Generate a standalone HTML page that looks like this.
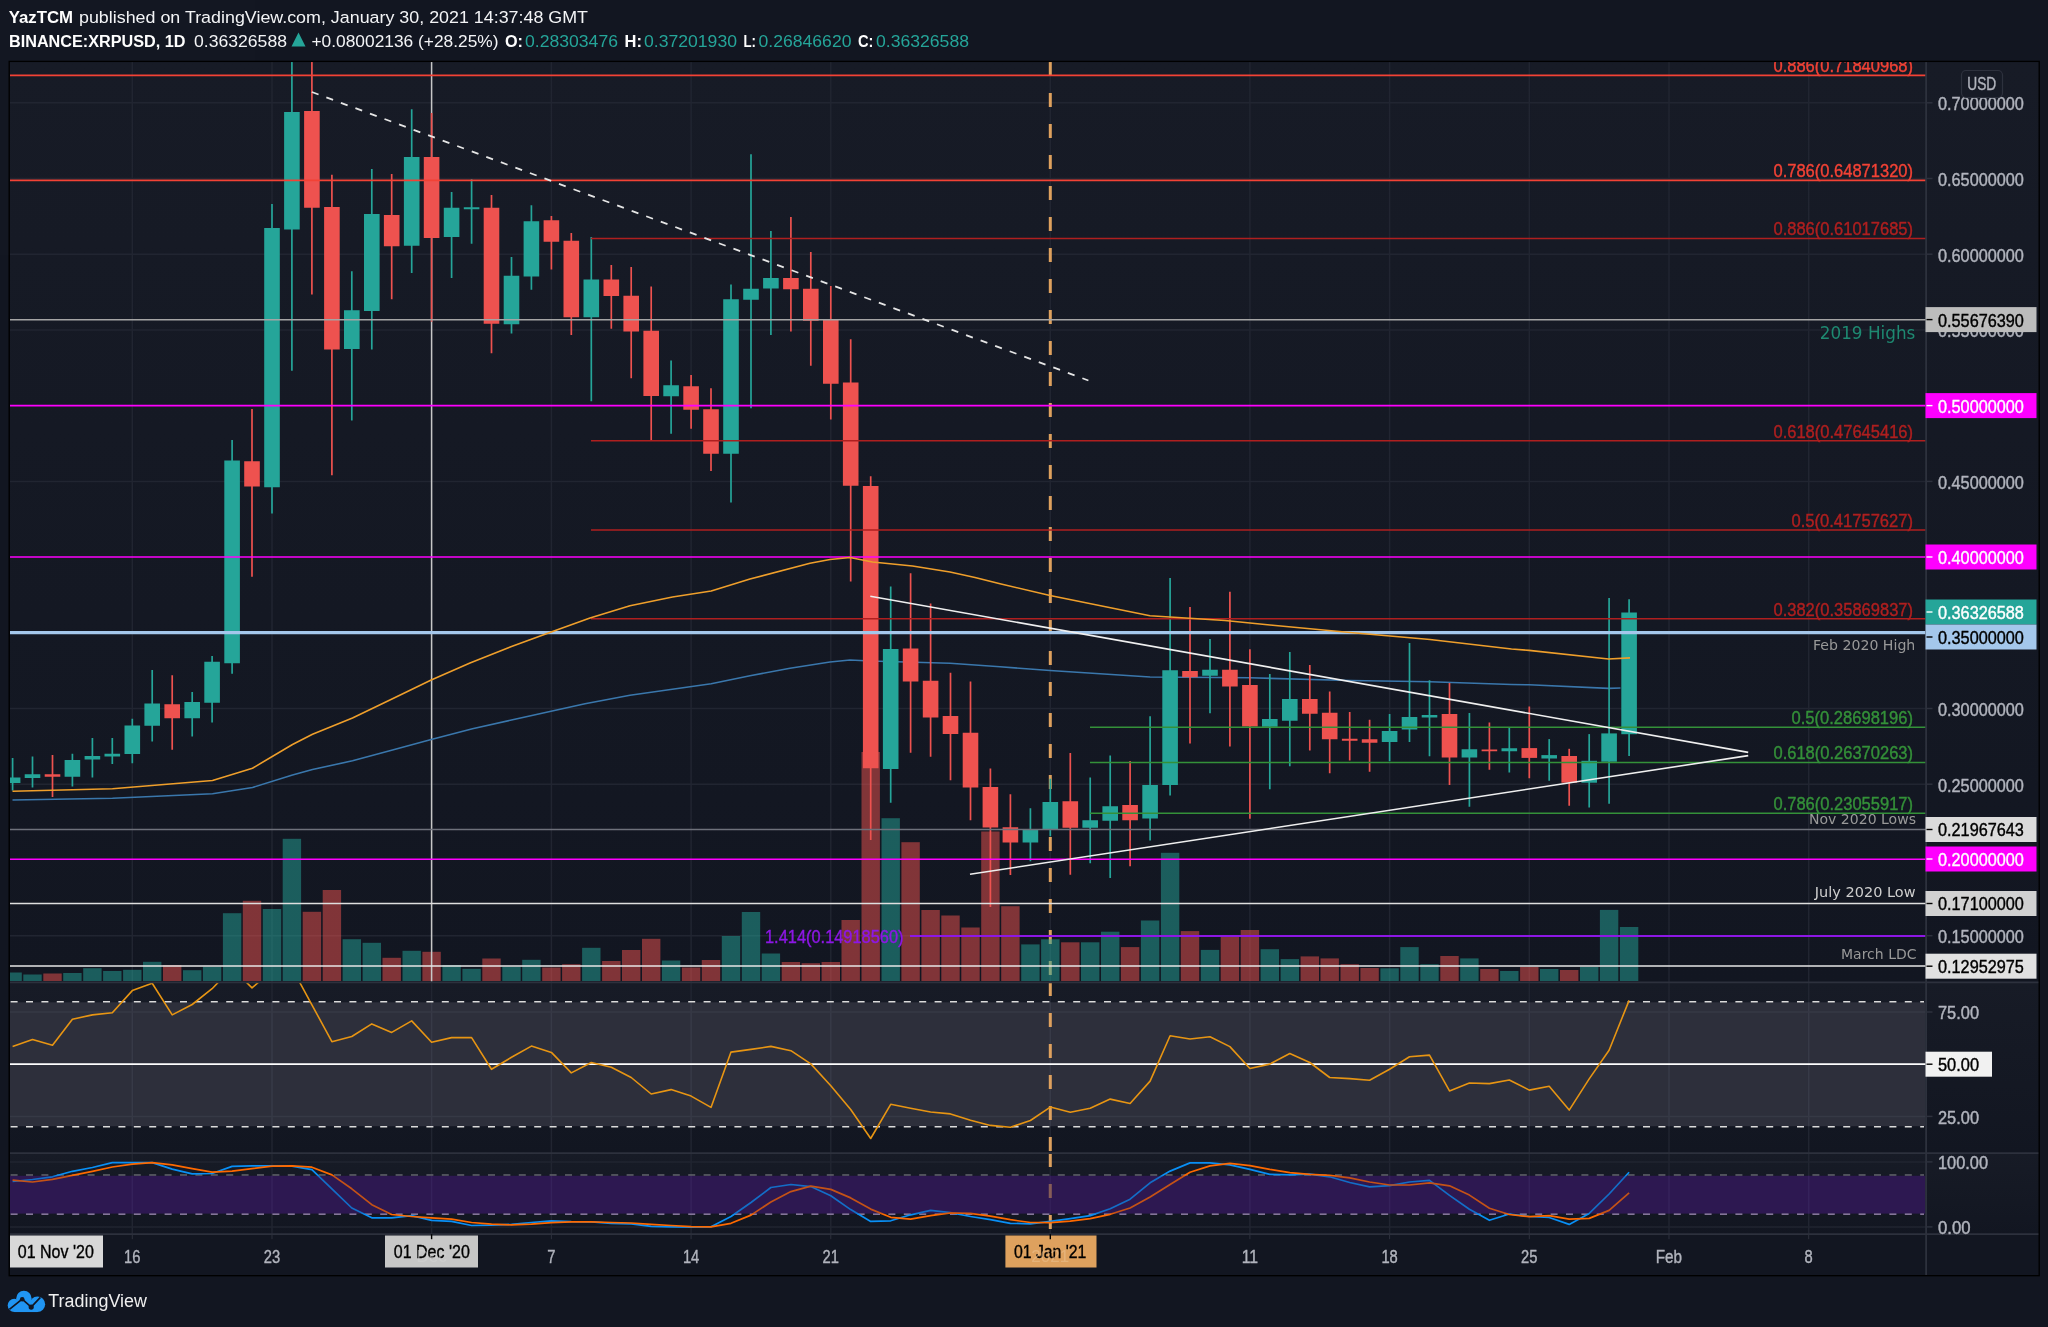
<!DOCTYPE html>
<html lang="en"><head><meta charset="utf-8"><title>XRPUSD chart</title>
<style>html,body{margin:0;padding:0;background:#131722;overflow:hidden}svg{will-change:transform;opacity:0.9999}svg text{white-space:pre}</style>
</head><body>
<svg width="2048" height="1327" viewBox="0 0 2048 1327" style="display:block">
<defs>
<linearGradient id="bg" x1="0" y1="0" x2="0" y2="1"><stop offset="0" stop-color="#181c27"/><stop offset="1" stop-color="#131722"/></linearGradient>
<clipPath id="cpMain"><rect x="10" y="62" width="1916.5" height="920.4"/></clipPath>
<clipPath id="cpRsi"><rect x="10" y="982.4" width="1916.5" height="170.7"/></clipPath>
<clipPath id="cpSto"><rect x="10" y="1153.1" width="1916.5" height="81.1"/></clipPath>
<clipPath id="cpLow"><rect x="10" y="982.4" width="1916.5" height="251.8"/></clipPath>
</defs>
<rect x="0" y="0" width="2048" height="1327" fill="#131722"/>
<rect x="9.5" y="61.5" width="2029.5" height="1214.5" fill="#131722"/>
<rect x="9.5" y="61.5" width="2029.5" height="920.9" fill="url(#bg)"/>
<rect x="9.5" y="982.4" width="2029.5" height="170.7" fill="url(#bg)"/>
<rect x="9.5" y="1153.1" width="2029.5" height="81.1" fill="url(#bg)"/>
<line x1="132.3" y1="62" x2="132.3" y2="1234.2" stroke="#222632" stroke-width="1.5"/>
<line x1="272.0" y1="62" x2="272.0" y2="1234.2" stroke="#222632" stroke-width="1.5"/>
<line x1="431.6" y1="62" x2="431.6" y2="1234.2" stroke="#222632" stroke-width="1.5"/>
<line x1="551.4" y1="62" x2="551.4" y2="1234.2" stroke="#222632" stroke-width="1.5"/>
<line x1="691.1" y1="62" x2="691.1" y2="1234.2" stroke="#222632" stroke-width="1.5"/>
<line x1="830.8" y1="62" x2="830.8" y2="1234.2" stroke="#222632" stroke-width="1.5"/>
<line x1="1050.3" y1="62" x2="1050.3" y2="1234.2" stroke="#222632" stroke-width="1.5"/>
<line x1="1249.9" y1="62" x2="1249.9" y2="1234.2" stroke="#222632" stroke-width="1.5"/>
<line x1="1389.6" y1="62" x2="1389.6" y2="1234.2" stroke="#222632" stroke-width="1.5"/>
<line x1="1529.3" y1="62" x2="1529.3" y2="1234.2" stroke="#222632" stroke-width="1.5"/>
<line x1="1669.0" y1="62" x2="1669.0" y2="1234.2" stroke="#222632" stroke-width="1.5"/>
<line x1="1808.7" y1="62" x2="1808.7" y2="1234.2" stroke="#222632" stroke-width="1.5"/>
<line x1="10" y1="102.8" x2="1926.5" y2="102.8" stroke="#222632" stroke-width="1.5"/>
<line x1="10" y1="178.5" x2="1926.5" y2="178.5" stroke="#222632" stroke-width="1.5"/>
<line x1="10" y1="254.2" x2="1926.5" y2="254.2" stroke="#222632" stroke-width="1.5"/>
<line x1="10" y1="329.9" x2="1926.5" y2="329.9" stroke="#222632" stroke-width="1.5"/>
<line x1="10" y1="481.4" x2="1926.5" y2="481.4" stroke="#222632" stroke-width="1.5"/>
<line x1="10" y1="708.5" x2="1926.5" y2="708.5" stroke="#222632" stroke-width="1.5"/>
<line x1="10" y1="784.2" x2="1926.5" y2="784.2" stroke="#222632" stroke-width="1.5"/>
<line x1="10" y1="935.7" x2="1926.5" y2="935.7" stroke="#222632" stroke-width="1.5"/>
<line x1="10" y1="1012" x2="1926.5" y2="1012" stroke="#222632" stroke-width="1.5"/>
<line x1="10" y1="1116.4" x2="1926.5" y2="1116.4" stroke="#222632" stroke-width="1.5"/>
<line x1="10" y1="1161.9" x2="1926.5" y2="1161.9" stroke="#222632" stroke-width="1.5"/>
<line x1="10" y1="1226.9" x2="1926.5" y2="1226.9" stroke="#222632" stroke-width="1.5"/>
<rect x="10" y="1002.3" width="1915.5" height="123.9" fill="#2e303c"/>
<rect x="10" y="1175.8" width="1915.5" height="37.8" fill="#2f1a52"/>
<line x1="132.3" y1="1002.3" x2="132.3" y2="1126.2" stroke="#383b48" stroke-width="1.5"/>
<line x1="132.3" y1="1175.8" x2="132.3" y2="1213.6" stroke="#3a2760" stroke-width="1.5"/>
<line x1="272.0" y1="1002.3" x2="272.0" y2="1126.2" stroke="#383b48" stroke-width="1.5"/>
<line x1="272.0" y1="1175.8" x2="272.0" y2="1213.6" stroke="#3a2760" stroke-width="1.5"/>
<line x1="431.6" y1="1002.3" x2="431.6" y2="1126.2" stroke="#383b48" stroke-width="1.5"/>
<line x1="431.6" y1="1175.8" x2="431.6" y2="1213.6" stroke="#3a2760" stroke-width="1.5"/>
<line x1="551.4" y1="1002.3" x2="551.4" y2="1126.2" stroke="#383b48" stroke-width="1.5"/>
<line x1="551.4" y1="1175.8" x2="551.4" y2="1213.6" stroke="#3a2760" stroke-width="1.5"/>
<line x1="691.1" y1="1002.3" x2="691.1" y2="1126.2" stroke="#383b48" stroke-width="1.5"/>
<line x1="691.1" y1="1175.8" x2="691.1" y2="1213.6" stroke="#3a2760" stroke-width="1.5"/>
<line x1="830.8" y1="1002.3" x2="830.8" y2="1126.2" stroke="#383b48" stroke-width="1.5"/>
<line x1="830.8" y1="1175.8" x2="830.8" y2="1213.6" stroke="#3a2760" stroke-width="1.5"/>
<line x1="1050.3" y1="1002.3" x2="1050.3" y2="1126.2" stroke="#383b48" stroke-width="1.5"/>
<line x1="1050.3" y1="1175.8" x2="1050.3" y2="1213.6" stroke="#3a2760" stroke-width="1.5"/>
<line x1="1249.9" y1="1002.3" x2="1249.9" y2="1126.2" stroke="#383b48" stroke-width="1.5"/>
<line x1="1249.9" y1="1175.8" x2="1249.9" y2="1213.6" stroke="#3a2760" stroke-width="1.5"/>
<line x1="1389.6" y1="1002.3" x2="1389.6" y2="1126.2" stroke="#383b48" stroke-width="1.5"/>
<line x1="1389.6" y1="1175.8" x2="1389.6" y2="1213.6" stroke="#3a2760" stroke-width="1.5"/>
<line x1="1529.3" y1="1002.3" x2="1529.3" y2="1126.2" stroke="#383b48" stroke-width="1.5"/>
<line x1="1529.3" y1="1175.8" x2="1529.3" y2="1213.6" stroke="#3a2760" stroke-width="1.5"/>
<line x1="1669.0" y1="1002.3" x2="1669.0" y2="1126.2" stroke="#383b48" stroke-width="1.5"/>
<line x1="1669.0" y1="1175.8" x2="1669.0" y2="1213.6" stroke="#3a2760" stroke-width="1.5"/>
<line x1="1808.7" y1="1002.3" x2="1808.7" y2="1126.2" stroke="#383b48" stroke-width="1.5"/>
<line x1="1808.7" y1="1175.8" x2="1808.7" y2="1213.6" stroke="#3a2760" stroke-width="1.5"/>
<line x1="10" y1="1012" x2="1925.5" y2="1012" stroke="#373a46" stroke-width="1.5"/>
<line x1="10" y1="1116.4" x2="1925.5" y2="1116.4" stroke="#373a46" stroke-width="1.5"/>
<g clip-path="url(#cpMain)">
<path d="M1050.3 62V981" stroke="#dfa25f" stroke-width="3" stroke-dasharray="14 17" fill="none"/>
<rect x="3.4" y="972.5" width="18.4" height="8.5" fill="#26a69a" fill-opacity="0.5"/>
<rect x="23.3" y="974.5" width="18.4" height="6.5" fill="#26a69a" fill-opacity="0.5"/>
<rect x="43.3" y="973.5" width="18.4" height="7.5" fill="#ef5350" fill-opacity="0.5"/>
<rect x="63.2" y="973.0" width="18.4" height="8.0" fill="#26a69a" fill-opacity="0.5"/>
<rect x="83.2" y="968.2" width="18.4" height="12.8" fill="#26a69a" fill-opacity="0.5"/>
<rect x="103.1" y="971.0" width="18.4" height="10.0" fill="#26a69a" fill-opacity="0.5"/>
<rect x="123.1" y="969.8" width="18.4" height="11.2" fill="#26a69a" fill-opacity="0.5"/>
<rect x="143.0" y="961.8" width="18.4" height="19.2" fill="#26a69a" fill-opacity="0.5"/>
<rect x="163.0" y="965.0" width="18.4" height="16.0" fill="#ef5350" fill-opacity="0.5"/>
<rect x="183.0" y="970.2" width="18.4" height="10.8" fill="#26a69a" fill-opacity="0.5"/>
<rect x="202.9" y="966.8" width="18.4" height="14.2" fill="#26a69a" fill-opacity="0.5"/>
<rect x="222.9" y="913.2" width="18.4" height="67.8" fill="#26a69a" fill-opacity="0.5"/>
<rect x="242.8" y="900.8" width="18.4" height="80.2" fill="#ef5350" fill-opacity="0.5"/>
<rect x="262.8" y="909.0" width="18.4" height="72.0" fill="#26a69a" fill-opacity="0.5"/>
<rect x="282.7" y="838.8" width="18.4" height="142.2" fill="#26a69a" fill-opacity="0.5"/>
<rect x="302.7" y="911.8" width="18.4" height="69.2" fill="#ef5350" fill-opacity="0.5"/>
<rect x="322.7" y="890.0" width="18.4" height="91.0" fill="#ef5350" fill-opacity="0.5"/>
<rect x="342.6" y="939.2" width="18.4" height="41.8" fill="#26a69a" fill-opacity="0.5"/>
<rect x="362.6" y="942.8" width="18.4" height="38.2" fill="#26a69a" fill-opacity="0.5"/>
<rect x="382.5" y="957.8" width="18.4" height="23.2" fill="#ef5350" fill-opacity="0.5"/>
<rect x="402.5" y="950.8" width="18.4" height="30.2" fill="#26a69a" fill-opacity="0.5"/>
<rect x="422.4" y="951.8" width="18.4" height="29.2" fill="#ef5350" fill-opacity="0.5"/>
<rect x="442.4" y="965.0" width="18.4" height="16.0" fill="#26a69a" fill-opacity="0.5"/>
<rect x="462.4" y="968.8" width="18.4" height="12.2" fill="#26a69a" fill-opacity="0.5"/>
<rect x="482.3" y="958.5" width="18.4" height="22.5" fill="#ef5350" fill-opacity="0.5"/>
<rect x="502.3" y="966.8" width="18.4" height="14.2" fill="#26a69a" fill-opacity="0.5"/>
<rect x="522.2" y="959.8" width="18.4" height="21.2" fill="#26a69a" fill-opacity="0.5"/>
<rect x="542.2" y="967.5" width="18.4" height="13.5" fill="#ef5350" fill-opacity="0.5"/>
<rect x="562.1" y="964.2" width="18.4" height="16.8" fill="#ef5350" fill-opacity="0.5"/>
<rect x="582.1" y="947.8" width="18.4" height="33.2" fill="#26a69a" fill-opacity="0.5"/>
<rect x="602.1" y="961.0" width="18.4" height="20.0" fill="#ef5350" fill-opacity="0.5"/>
<rect x="622.0" y="950.0" width="18.4" height="31.0" fill="#ef5350" fill-opacity="0.5"/>
<rect x="642.0" y="938.8" width="18.4" height="42.2" fill="#ef5350" fill-opacity="0.5"/>
<rect x="661.9" y="960.5" width="18.4" height="20.5" fill="#26a69a" fill-opacity="0.5"/>
<rect x="681.9" y="967.5" width="18.4" height="13.5" fill="#ef5350" fill-opacity="0.5"/>
<rect x="701.8" y="960.0" width="18.4" height="21.0" fill="#ef5350" fill-opacity="0.5"/>
<rect x="721.8" y="936.0" width="18.4" height="45.0" fill="#26a69a" fill-opacity="0.5"/>
<rect x="741.8" y="912.0" width="18.4" height="69.0" fill="#26a69a" fill-opacity="0.5"/>
<rect x="761.7" y="953.5" width="18.4" height="27.5" fill="#26a69a" fill-opacity="0.5"/>
<rect x="781.7" y="962.0" width="18.4" height="19.0" fill="#ef5350" fill-opacity="0.5"/>
<rect x="801.6" y="963.2" width="18.4" height="17.8" fill="#ef5350" fill-opacity="0.5"/>
<rect x="821.6" y="962.0" width="18.4" height="19.0" fill="#ef5350" fill-opacity="0.5"/>
<rect x="841.5" y="920.0" width="18.4" height="61.0" fill="#ef5350" fill-opacity="0.5"/>
<rect x="861.5" y="752.0" width="18.4" height="229.0" fill="#ef5350" fill-opacity="0.5"/>
<rect x="881.5" y="818.2" width="18.4" height="162.8" fill="#26a69a" fill-opacity="0.5"/>
<rect x="901.4" y="842.2" width="18.4" height="138.8" fill="#ef5350" fill-opacity="0.5"/>
<rect x="921.4" y="910.0" width="18.4" height="71.0" fill="#ef5350" fill-opacity="0.5"/>
<rect x="941.3" y="915.5" width="18.4" height="65.5" fill="#ef5350" fill-opacity="0.5"/>
<rect x="961.3" y="927.5" width="18.4" height="53.5" fill="#ef5350" fill-opacity="0.5"/>
<rect x="981.2" y="831.5" width="18.4" height="149.5" fill="#ef5350" fill-opacity="0.5"/>
<rect x="1001.2" y="906.2" width="18.4" height="74.8" fill="#ef5350" fill-opacity="0.5"/>
<rect x="1021.2" y="944.4" width="18.4" height="36.6" fill="#26a69a" fill-opacity="0.5"/>
<rect x="1041.1" y="939.3" width="18.4" height="41.7" fill="#26a69a" fill-opacity="0.5"/>
<rect x="1061.1" y="942.3" width="18.4" height="38.7" fill="#ef5350" fill-opacity="0.5"/>
<rect x="1081.0" y="942.3" width="18.4" height="38.7" fill="#26a69a" fill-opacity="0.5"/>
<rect x="1101.0" y="931.7" width="18.4" height="49.3" fill="#26a69a" fill-opacity="0.5"/>
<rect x="1120.9" y="947.1" width="18.4" height="33.9" fill="#ef5350" fill-opacity="0.5"/>
<rect x="1140.9" y="920.5" width="18.4" height="60.5" fill="#26a69a" fill-opacity="0.5"/>
<rect x="1160.9" y="852.8" width="18.4" height="128.2" fill="#26a69a" fill-opacity="0.5"/>
<rect x="1180.8" y="931.1" width="18.4" height="49.9" fill="#ef5350" fill-opacity="0.5"/>
<rect x="1200.8" y="949.9" width="18.4" height="31.1" fill="#26a69a" fill-opacity="0.5"/>
<rect x="1220.7" y="936.2" width="18.4" height="44.8" fill="#ef5350" fill-opacity="0.5"/>
<rect x="1240.7" y="930.0" width="18.4" height="51.0" fill="#ef5350" fill-opacity="0.5"/>
<rect x="1260.6" y="949.2" width="18.4" height="31.8" fill="#26a69a" fill-opacity="0.5"/>
<rect x="1280.6" y="959.1" width="18.4" height="21.9" fill="#26a69a" fill-opacity="0.5"/>
<rect x="1300.6" y="956.4" width="18.4" height="24.6" fill="#ef5350" fill-opacity="0.5"/>
<rect x="1320.5" y="958.4" width="18.4" height="22.6" fill="#ef5350" fill-opacity="0.5"/>
<rect x="1340.5" y="964.2" width="18.4" height="16.8" fill="#ef5350" fill-opacity="0.5"/>
<rect x="1360.4" y="968.0" width="18.4" height="13.0" fill="#ef5350" fill-opacity="0.5"/>
<rect x="1380.4" y="968.3" width="18.4" height="12.7" fill="#26a69a" fill-opacity="0.5"/>
<rect x="1400.3" y="947.1" width="18.4" height="33.9" fill="#26a69a" fill-opacity="0.5"/>
<rect x="1420.3" y="964.2" width="18.4" height="16.8" fill="#26a69a" fill-opacity="0.5"/>
<rect x="1440.3" y="956.0" width="18.4" height="25.0" fill="#ef5350" fill-opacity="0.5"/>
<rect x="1460.2" y="958.4" width="18.4" height="22.6" fill="#26a69a" fill-opacity="0.5"/>
<rect x="1480.2" y="969.0" width="18.4" height="12.0" fill="#ef5350" fill-opacity="0.5"/>
<rect x="1500.1" y="971.0" width="18.4" height="10.0" fill="#26a69a" fill-opacity="0.5"/>
<rect x="1520.1" y="967.0" width="18.4" height="14.0" fill="#ef5350" fill-opacity="0.5"/>
<rect x="1540.0" y="969.0" width="18.4" height="12.0" fill="#26a69a" fill-opacity="0.5"/>
<rect x="1560.0" y="970.0" width="18.4" height="11.0" fill="#ef5350" fill-opacity="0.5"/>
<rect x="1580.0" y="967.0" width="18.4" height="14.0" fill="#26a69a" fill-opacity="0.5"/>
<rect x="1599.9" y="909.9" width="18.4" height="71.1" fill="#26a69a" fill-opacity="0.5"/>
<rect x="1619.9" y="927.0" width="18.4" height="54.0" fill="#26a69a" fill-opacity="0.5"/>
<line x1="431.6" y1="62" x2="431.6" y2="981.5" stroke="#c8c8c8" stroke-width="1.5"/>
<polyline points="12.5,800.0 112.5,798.2 212.5,793.8 252.5,787.5 292.5,775.0 312.5,769.5 352.5,760.8 392.5,750.0 431.2,739.5 472.5,728.8 511.5,720.0 585.0,703.8 630.0,695.2 711.2,683.8 750.0,675.8 790.0,668.2 830.0,662.0 850.0,660.0 870.0,661.0 950.0,663.2 1000.0,666.8 1050.0,670.5 1150.0,677.0 1250.0,677.8 1350.0,680.5 1430.0,681.8 1511.5,684.5 1529.0,684.8 1608.5,688.4 1620.5,688.0" fill="none" stroke="#3b78ad" stroke-width="1.6" stroke-linejoin="round"/>
<line x1="12.6" y1="758" x2="12.6" y2="790.5" stroke="#26a69a" stroke-width="1.7"/>
<rect x="4.8" y="777.5" width="15.6" height="5.50" fill="#26a69a"/>
<line x1="32.5" y1="756.5" x2="32.5" y2="787.5" stroke="#26a69a" stroke-width="1.7"/>
<rect x="24.7" y="774.25" width="15.6" height="3.75" fill="#26a69a"/>
<line x1="52.5" y1="755" x2="52.5" y2="797" stroke="#ef5350" stroke-width="1.7"/>
<rect x="44.7" y="774.25" width="15.6" height="2.50" fill="#ef5350"/>
<line x1="72.4" y1="753.75" x2="72.4" y2="786.5" stroke="#26a69a" stroke-width="1.7"/>
<rect x="64.6" y="760" width="15.6" height="16.75" fill="#26a69a"/>
<line x1="92.4" y1="738" x2="92.4" y2="777.5" stroke="#26a69a" stroke-width="1.7"/>
<rect x="84.6" y="756" width="15.6" height="3.50" fill="#26a69a"/>
<line x1="112.3" y1="738" x2="112.3" y2="764" stroke="#26a69a" stroke-width="1.7"/>
<rect x="104.5" y="753.75" width="15.6" height="2.75" fill="#26a69a"/>
<line x1="132.3" y1="718.75" x2="132.3" y2="763.25" stroke="#26a69a" stroke-width="1.7"/>
<rect x="124.5" y="725.5" width="15.6" height="28.50" fill="#26a69a"/>
<line x1="152.2" y1="670" x2="152.2" y2="741.5" stroke="#26a69a" stroke-width="1.7"/>
<rect x="144.4" y="703.5" width="15.6" height="22.25" fill="#26a69a"/>
<line x1="172.2" y1="675.25" x2="172.2" y2="749.75" stroke="#ef5350" stroke-width="1.7"/>
<rect x="164.4" y="704.25" width="15.6" height="14.00" fill="#ef5350"/>
<line x1="192.2" y1="692" x2="192.2" y2="736.5" stroke="#26a69a" stroke-width="1.7"/>
<rect x="184.4" y="702" width="15.6" height="16.25" fill="#26a69a"/>
<line x1="212.1" y1="656" x2="212.1" y2="722.5" stroke="#26a69a" stroke-width="1.7"/>
<rect x="204.3" y="661.75" width="15.6" height="41.00" fill="#26a69a"/>
<line x1="232.1" y1="440" x2="232.1" y2="673.75" stroke="#26a69a" stroke-width="1.7"/>
<rect x="224.3" y="460.5" width="15.6" height="202.75" fill="#26a69a"/>
<line x1="252.0" y1="409" x2="252.0" y2="576.75" stroke="#ef5350" stroke-width="1.7"/>
<rect x="244.2" y="461.25" width="15.6" height="25.25" fill="#ef5350"/>
<line x1="272.0" y1="204" x2="272.0" y2="513.5" stroke="#26a69a" stroke-width="1.7"/>
<rect x="264.2" y="228" width="15.6" height="259.25" fill="#26a69a"/>
<line x1="291.9" y1="50" x2="291.9" y2="370.75" stroke="#26a69a" stroke-width="1.7"/>
<rect x="284.1" y="112" width="15.6" height="117.50" fill="#26a69a"/>
<line x1="311.9" y1="50" x2="311.9" y2="294.5" stroke="#ef5350" stroke-width="1.7"/>
<rect x="304.1" y="111" width="15.6" height="96.75" fill="#ef5350"/>
<line x1="331.9" y1="174.75" x2="331.9" y2="475.25" stroke="#ef5350" stroke-width="1.7"/>
<rect x="324.1" y="207" width="15.6" height="142.50" fill="#ef5350"/>
<line x1="351.8" y1="271.25" x2="351.8" y2="420.5" stroke="#26a69a" stroke-width="1.7"/>
<rect x="344.0" y="310.25" width="15.6" height="38.75" fill="#26a69a"/>
<line x1="371.8" y1="169" x2="371.8" y2="349.5" stroke="#26a69a" stroke-width="1.7"/>
<rect x="364.0" y="214" width="15.6" height="97.00" fill="#26a69a"/>
<line x1="391.7" y1="174" x2="391.7" y2="299.25" stroke="#ef5350" stroke-width="1.7"/>
<rect x="383.9" y="215" width="15.6" height="31.25" fill="#ef5350"/>
<line x1="411.7" y1="109.25" x2="411.7" y2="273" stroke="#26a69a" stroke-width="1.7"/>
<rect x="403.9" y="157" width="15.6" height="88.75" fill="#26a69a"/>
<line x1="431.6" y1="113" x2="431.6" y2="321.75" stroke="#ef5350" stroke-width="1.7"/>
<rect x="423.8" y="157" width="15.6" height="81.00" fill="#ef5350"/>
<line x1="451.6" y1="192" x2="451.6" y2="278" stroke="#26a69a" stroke-width="1.7"/>
<rect x="443.8" y="207.75" width="15.6" height="29.25" fill="#26a69a"/>
<line x1="471.6" y1="179.25" x2="471.6" y2="243.75" stroke="#26a69a" stroke-width="1.7"/>
<rect x="463.8" y="207.25" width="15.6" height="2.00" fill="#26a69a"/>
<line x1="491.5" y1="195" x2="491.5" y2="353.25" stroke="#ef5350" stroke-width="1.7"/>
<rect x="483.7" y="207.75" width="15.6" height="116.00" fill="#ef5350"/>
<line x1="511.5" y1="257" x2="511.5" y2="333.5" stroke="#26a69a" stroke-width="1.7"/>
<rect x="503.7" y="275.75" width="15.6" height="48.50" fill="#26a69a"/>
<line x1="531.4" y1="205.25" x2="531.4" y2="289.75" stroke="#26a69a" stroke-width="1.7"/>
<rect x="523.6" y="221.25" width="15.6" height="55.25" fill="#26a69a"/>
<line x1="551.4" y1="216" x2="551.4" y2="269.5" stroke="#ef5350" stroke-width="1.7"/>
<rect x="543.6" y="220.25" width="15.6" height="21.50" fill="#ef5350"/>
<line x1="571.3" y1="233" x2="571.3" y2="335" stroke="#ef5350" stroke-width="1.7"/>
<rect x="563.5" y="240.75" width="15.6" height="76.50" fill="#ef5350"/>
<line x1="591.3" y1="237" x2="591.3" y2="401.25" stroke="#26a69a" stroke-width="1.7"/>
<rect x="583.5" y="279.5" width="15.6" height="37.75" fill="#26a69a"/>
<line x1="611.3" y1="265" x2="611.3" y2="328.75" stroke="#ef5350" stroke-width="1.7"/>
<rect x="603.5" y="279.5" width="15.6" height="16.50" fill="#ef5350"/>
<line x1="631.2" y1="267" x2="631.2" y2="378.25" stroke="#ef5350" stroke-width="1.7"/>
<rect x="623.4" y="295.75" width="15.6" height="35.75" fill="#ef5350"/>
<line x1="651.2" y1="286.5" x2="651.2" y2="440" stroke="#ef5350" stroke-width="1.7"/>
<rect x="643.4" y="330.75" width="15.6" height="65.25" fill="#ef5350"/>
<line x1="671.1" y1="360.5" x2="671.1" y2="433.75" stroke="#26a69a" stroke-width="1.7"/>
<rect x="663.3" y="385.25" width="15.6" height="11.00" fill="#26a69a"/>
<line x1="691.1" y1="375" x2="691.1" y2="428.75" stroke="#ef5350" stroke-width="1.7"/>
<rect x="683.3" y="386.25" width="15.6" height="23.50" fill="#ef5350"/>
<line x1="711.0" y1="388.25" x2="711.0" y2="471" stroke="#ef5350" stroke-width="1.7"/>
<rect x="703.2" y="409.25" width="15.6" height="44.50" fill="#ef5350"/>
<line x1="731.0" y1="284.5" x2="731.0" y2="502.5" stroke="#26a69a" stroke-width="1.7"/>
<rect x="723.2" y="299.25" width="15.6" height="154.50" fill="#26a69a"/>
<line x1="751.0" y1="154.25" x2="751.0" y2="408.25" stroke="#26a69a" stroke-width="1.7"/>
<rect x="743.2" y="288.75" width="15.6" height="11.00" fill="#26a69a"/>
<line x1="770.9" y1="231" x2="770.9" y2="335" stroke="#26a69a" stroke-width="1.7"/>
<rect x="763.1" y="278" width="15.6" height="10.50" fill="#26a69a"/>
<line x1="790.9" y1="217" x2="790.9" y2="331.5" stroke="#ef5350" stroke-width="1.7"/>
<rect x="783.1" y="278" width="15.6" height="11.25" fill="#ef5350"/>
<line x1="810.8" y1="252" x2="810.8" y2="365.75" stroke="#ef5350" stroke-width="1.7"/>
<rect x="803.0" y="288.75" width="15.6" height="32.00" fill="#ef5350"/>
<line x1="830.8" y1="286" x2="830.8" y2="419.5" stroke="#ef5350" stroke-width="1.7"/>
<rect x="823.0" y="320" width="15.6" height="63.75" fill="#ef5350"/>
<line x1="850.7" y1="339.25" x2="850.7" y2="581.5" stroke="#ef5350" stroke-width="1.7"/>
<rect x="842.9" y="382.5" width="15.6" height="103.25" fill="#ef5350"/>
<line x1="870.7" y1="476.25" x2="870.7" y2="840" stroke="#ef5350" stroke-width="1.7"/>
<rect x="862.9" y="486" width="15.6" height="282.25" fill="#ef5350"/>
<line x1="890.7" y1="586.5" x2="890.7" y2="802.75" stroke="#26a69a" stroke-width="1.7"/>
<rect x="882.9" y="649" width="15.6" height="120.00" fill="#26a69a"/>
<line x1="910.6" y1="573.25" x2="910.6" y2="752.75" stroke="#ef5350" stroke-width="1.7"/>
<rect x="902.8" y="648.5" width="15.6" height="33.00" fill="#ef5350"/>
<line x1="930.6" y1="603.5" x2="930.6" y2="756.75" stroke="#ef5350" stroke-width="1.7"/>
<rect x="922.8" y="680.75" width="15.6" height="36.75" fill="#ef5350"/>
<line x1="950.5" y1="672.75" x2="950.5" y2="780.25" stroke="#ef5350" stroke-width="1.7"/>
<rect x="942.7" y="716" width="15.6" height="18.00" fill="#ef5350"/>
<line x1="970.5" y1="681.5" x2="970.5" y2="820.25" stroke="#ef5350" stroke-width="1.7"/>
<rect x="962.7" y="732.75" width="15.6" height="54.75" fill="#ef5350"/>
<line x1="990.4" y1="768.5" x2="990.4" y2="907" stroke="#ef5350" stroke-width="1.7"/>
<rect x="982.6" y="787" width="15.6" height="40.50" fill="#ef5350"/>
<line x1="1010.4" y1="794.25" x2="1010.4" y2="875" stroke="#ef5350" stroke-width="1.7"/>
<rect x="1002.6" y="827.25" width="15.6" height="15.25" fill="#ef5350"/>
<line x1="1030.4" y1="808.25" x2="1030.4" y2="861.25" stroke="#26a69a" stroke-width="1.7"/>
<rect x="1022.6" y="829" width="15.6" height="13.50" fill="#26a69a"/>
<line x1="1050.3" y1="778.75" x2="1050.3" y2="836.25" stroke="#26a69a" stroke-width="1.7"/>
<rect x="1042.5" y="802" width="15.6" height="27.50" fill="#26a69a"/>
<line x1="1070.3" y1="753" x2="1070.3" y2="874.7" stroke="#ef5350" stroke-width="1.7"/>
<rect x="1062.5" y="801.25" width="15.6" height="26.50" fill="#ef5350"/>
<line x1="1090.2" y1="777.5" x2="1090.2" y2="863.25" stroke="#26a69a" stroke-width="1.7"/>
<rect x="1082.4" y="820.25" width="15.6" height="7.50" fill="#26a69a"/>
<line x1="1110.2" y1="755.5" x2="1110.2" y2="878" stroke="#26a69a" stroke-width="1.7"/>
<rect x="1102.4" y="806.25" width="15.6" height="14.50" fill="#26a69a"/>
<line x1="1130.1" y1="761" x2="1130.1" y2="866.25" stroke="#ef5350" stroke-width="1.7"/>
<rect x="1122.3" y="805" width="15.6" height="15.25" fill="#ef5350"/>
<line x1="1150.1" y1="716.25" x2="1150.1" y2="840.5" stroke="#26a69a" stroke-width="1.7"/>
<rect x="1142.3" y="785" width="15.6" height="33.50" fill="#26a69a"/>
<line x1="1170.1" y1="578" x2="1170.1" y2="795.5" stroke="#26a69a" stroke-width="1.7"/>
<rect x="1162.3" y="670.25" width="15.6" height="114.75" fill="#26a69a"/>
<line x1="1190.0" y1="607" x2="1190.0" y2="743.5" stroke="#ef5350" stroke-width="1.7"/>
<rect x="1182.2" y="671" width="15.6" height="6.25" fill="#ef5350"/>
<line x1="1210.0" y1="639" x2="1210.0" y2="713.25" stroke="#26a69a" stroke-width="1.7"/>
<rect x="1202.2" y="669.75" width="15.6" height="6.00" fill="#26a69a"/>
<line x1="1229.9" y1="591.75" x2="1229.9" y2="746.5" stroke="#ef5350" stroke-width="1.7"/>
<rect x="1222.1" y="669.75" width="15.6" height="16.75" fill="#ef5350"/>
<line x1="1249.9" y1="649.25" x2="1249.9" y2="818.75" stroke="#ef5350" stroke-width="1.7"/>
<rect x="1242.1" y="685" width="15.6" height="41.50" fill="#ef5350"/>
<line x1="1269.8" y1="674" x2="1269.8" y2="789.25" stroke="#26a69a" stroke-width="1.7"/>
<rect x="1262.0" y="719" width="15.6" height="7.75" fill="#26a69a"/>
<line x1="1289.8" y1="652" x2="1289.8" y2="766.25" stroke="#26a69a" stroke-width="1.7"/>
<rect x="1282.0" y="699" width="15.6" height="21.75" fill="#26a69a"/>
<line x1="1309.8" y1="665" x2="1309.8" y2="750.5" stroke="#ef5350" stroke-width="1.7"/>
<rect x="1302.0" y="699" width="15.6" height="14.75" fill="#ef5350"/>
<line x1="1329.7" y1="691.5" x2="1329.7" y2="773.25" stroke="#ef5350" stroke-width="1.7"/>
<rect x="1321.9" y="712.75" width="15.6" height="26.50" fill="#ef5350"/>
<line x1="1349.7" y1="712" x2="1349.7" y2="760.5" stroke="#ef5350" stroke-width="1.7"/>
<rect x="1341.9" y="738.75" width="15.6" height="2.00" fill="#ef5350"/>
<line x1="1369.6" y1="719.75" x2="1369.6" y2="771.75" stroke="#ef5350" stroke-width="1.7"/>
<rect x="1361.8" y="739.25" width="15.6" height="3.50" fill="#ef5350"/>
<line x1="1389.6" y1="714" x2="1389.6" y2="761.25" stroke="#26a69a" stroke-width="1.7"/>
<rect x="1381.8" y="731" width="15.6" height="11.00" fill="#26a69a"/>
<line x1="1409.5" y1="643" x2="1409.5" y2="742" stroke="#26a69a" stroke-width="1.7"/>
<rect x="1401.7" y="717" width="15.6" height="12.50" fill="#26a69a"/>
<line x1="1429.5" y1="680.25" x2="1429.5" y2="756.25" stroke="#26a69a" stroke-width="1.7"/>
<rect x="1421.7" y="715" width="15.6" height="2.50" fill="#26a69a"/>
<line x1="1449.5" y1="683" x2="1449.5" y2="785" stroke="#ef5350" stroke-width="1.7"/>
<rect x="1441.7" y="714" width="15.6" height="43.50" fill="#ef5350"/>
<line x1="1469.4" y1="713" x2="1469.4" y2="806.75" stroke="#26a69a" stroke-width="1.7"/>
<rect x="1461.6" y="749.25" width="15.6" height="8.25" fill="#26a69a"/>
<line x1="1489.4" y1="722.5" x2="1489.4" y2="769.75" stroke="#ef5350" stroke-width="1.7"/>
<rect x="1481.6" y="749.5" width="15.6" height="1.75" fill="#ef5350"/>
<line x1="1509.3" y1="728" x2="1509.3" y2="772.5" stroke="#26a69a" stroke-width="1.7"/>
<rect x="1501.5" y="748.25" width="15.6" height="3.00" fill="#26a69a"/>
<line x1="1529.3" y1="706.5" x2="1529.3" y2="778.2" stroke="#ef5350" stroke-width="1.7"/>
<rect x="1521.5" y="748.1" width="15.6" height="9.80" fill="#ef5350"/>
<line x1="1549.2" y1="739.1" x2="1549.2" y2="780.7" stroke="#26a69a" stroke-width="1.7"/>
<rect x="1541.4" y="755.1" width="15.6" height="3.40" fill="#26a69a"/>
<line x1="1569.2" y1="748.8" x2="1569.2" y2="805.8" stroke="#ef5350" stroke-width="1.7"/>
<rect x="1561.4" y="756" width="15.6" height="26.70" fill="#ef5350"/>
<line x1="1589.2" y1="734.1" x2="1589.2" y2="807.6" stroke="#26a69a" stroke-width="1.7"/>
<rect x="1581.4" y="760.8" width="15.6" height="21.90" fill="#26a69a"/>
<line x1="1609.1" y1="598" x2="1609.1" y2="803.8" stroke="#26a69a" stroke-width="1.7"/>
<rect x="1601.3" y="733.4" width="15.6" height="28.30" fill="#26a69a"/>
<line x1="1629.1" y1="599.3" x2="1629.1" y2="756" stroke="#26a69a" stroke-width="1.7"/>
<rect x="1621.3" y="612.5" width="15.6" height="121.70" fill="#26a69a"/>
<line x1="10" y1="75.4" x2="1926.5" y2="75.4" stroke="#f44336" stroke-width="1.8"/>
<line x1="10" y1="180.4" x2="1926.5" y2="180.4" stroke="#f44336" stroke-width="1.8"/>
<line x1="591" y1="238.5" x2="1926.5" y2="238.5" stroke="#b02020" stroke-width="1.6"/>
<line x1="10" y1="319.7" x2="1926.5" y2="319.7" stroke="#a6a6a6" stroke-width="1.5"/>
<line x1="10" y1="405.6" x2="1926.5" y2="405.6" stroke="#ff00ff" stroke-width="1.6"/>
<line x1="591" y1="440.7" x2="1926.5" y2="440.7" stroke="#b02020" stroke-width="1.6"/>
<line x1="591" y1="530" x2="1926.5" y2="530" stroke="#b02020" stroke-width="1.6"/>
<line x1="10" y1="557" x2="1926.5" y2="557" stroke="#ff00ff" stroke-width="1.6"/>
<line x1="591" y1="618.8" x2="1926.5" y2="618.8" stroke="#b02020" stroke-width="1.6"/>
<line x1="10" y1="632.6" x2="1926.5" y2="632.6" stroke="#a5c8ec" stroke-width="3.2"/>
<line x1="1090" y1="727.3" x2="1926.5" y2="727.3" stroke="#35923a" stroke-width="1.6"/>
<line x1="1090" y1="762.5" x2="1926.5" y2="762.5" stroke="#35923a" stroke-width="1.6"/>
<line x1="1090" y1="813.3" x2="1926.5" y2="813.3" stroke="#35923a" stroke-width="1.6"/>
<line x1="10" y1="829.5" x2="1926.5" y2="829.5" stroke="#6f727c" stroke-width="1.4"/>
<line x1="10" y1="859.2" x2="1926.5" y2="859.2" stroke="#ff00ff" stroke-width="1.6"/>
<line x1="10" y1="903.6" x2="1926.5" y2="903.6" stroke="#e0e0e0" stroke-width="1.5"/>
<line x1="910" y1="936" x2="1926.5" y2="936" stroke="#8e18e6" stroke-width="1.8"/>
<line x1="10" y1="966" x2="1926.5" y2="966" stroke="#e8e8e8" stroke-width="1.6"/>
<polyline points="12.5,791.2 112.5,788.8 212.5,780.5 252.5,768.2 292.5,744.5 312.5,734.2 352.5,718.0 392.5,698.8 431.2,680.0 470.0,663.0 511.5,646.5 551.2,632.0 590.0,618.0 630.0,605.8 672.5,597.0 711.2,591.0 750.0,579.0 810.0,563.2 830.0,559.5 850.0,557.5 872.5,562.0 912.5,566.0 950.0,572.0 975.0,577.5 1000.0,583.8 1050.0,595.5 1150.0,615.8 1225.0,620.5 1270.0,625.0 1350.0,632.5 1430.0,639.5 1511.5,649.0 1529.0,650.4 1608.5,659.0 1630.0,657.9" fill="none" stroke="#f0a02c" stroke-width="1.6" stroke-linejoin="round"/>
<line x1="311.8" y1="92" x2="1088.4" y2="380.5" stroke="#e6e6e6" stroke-width="1.8" stroke-dasharray="7.2 8.31"/>
<line x1="870.3" y1="596.2" x2="1748.2" y2="752.4" stroke="#f0f0f0" stroke-width="1.6"/>
<line x1="970" y1="874.3" x2="1748.2" y2="755.6" stroke="#f0f0f0" stroke-width="1.6"/>
<text x="765" y="943" font-size="18" fill="#8e18e6" text-anchor="start" font-weight="normal" font-family='"Liberation Sans", sans-serif' textLength="138.5" lengthAdjust="spacingAndGlyphs" stroke="#8e18e6" stroke-width="0.4">1.414(0.14918560)</text>
</g>
<g clip-path="url(#cpMain)">
<text x="1773.5" y="71.8" font-size="18" fill="#f44336" text-anchor="start" font-weight="normal" font-family='"Liberation Sans", sans-serif' textLength="139.5" lengthAdjust="spacingAndGlyphs" stroke="#f44336" stroke-width="0.4">0.886(0.71840968)</text>
</g>
<text x="1773.5" y="177" font-size="18" fill="#f44336" text-anchor="start" font-weight="normal" font-family='"Liberation Sans", sans-serif' textLength="139.5" lengthAdjust="spacingAndGlyphs" stroke="#f44336" stroke-width="0.4">0.786(0.64871320)</text>
<text x="1773.5" y="235.3" font-size="18" fill="#b02020" text-anchor="start" font-weight="normal" font-family='"Liberation Sans", sans-serif' textLength="139.5" lengthAdjust="spacingAndGlyphs" stroke="#b02020" stroke-width="0.4">0.886(0.61017685)</text>
<text x="1773.5" y="437.5" font-size="18" fill="#b02020" text-anchor="start" font-weight="normal" font-family='"Liberation Sans", sans-serif' textLength="139.5" lengthAdjust="spacingAndGlyphs" stroke="#b02020" stroke-width="0.4">0.618(0.47645416)</text>
<text x="1791.5" y="526.8" font-size="18" fill="#b02020" text-anchor="start" font-weight="normal" font-family='"Liberation Sans", sans-serif' textLength="121.5" lengthAdjust="spacingAndGlyphs" stroke="#b02020" stroke-width="0.4">0.5(0.41757627)</text>
<text x="1773.5" y="615.6" font-size="18" fill="#b02020" text-anchor="start" font-weight="normal" font-family='"Liberation Sans", sans-serif' textLength="139.5" lengthAdjust="spacingAndGlyphs" stroke="#b02020" stroke-width="0.4">0.382(0.35869837)</text>
<text x="1791.5" y="724" font-size="18" fill="#35923a" text-anchor="start" font-weight="normal" font-family='"Liberation Sans", sans-serif' textLength="121.5" lengthAdjust="spacingAndGlyphs" stroke="#35923a" stroke-width="0.4">0.5(0.28698196)</text>
<text x="1773.5" y="759.3" font-size="18" fill="#35923a" text-anchor="start" font-weight="normal" font-family='"Liberation Sans", sans-serif' textLength="139.5" lengthAdjust="spacingAndGlyphs" stroke="#35923a" stroke-width="0.4">0.618(0.26370263)</text>
<text x="1773.5" y="810" font-size="18" fill="#35923a" text-anchor="start" font-weight="normal" font-family='"Liberation Sans", sans-serif' textLength="139.5" lengthAdjust="spacingAndGlyphs" stroke="#35923a" stroke-width="0.4">0.786(0.23055917)</text>
<text x="1819.8" y="339.3" font-size="16.8" fill="#1f8a72" text-anchor="start" font-weight="normal" font-family='"DejaVu Sans", "Liberation Sans", sans-serif' textLength="95.5" lengthAdjust="spacingAndGlyphs">2019 Highs</text>
<text x="1813" y="649.5" font-size="14.2" fill="#9a9a9a" text-anchor="start" font-weight="normal" font-family='"DejaVu Sans", "Liberation Sans", sans-serif' textLength="102.3" lengthAdjust="spacingAndGlyphs">Feb 2020 High</text>
<text x="1809" y="823.8" font-size="14.2" fill="#9a9a9a" text-anchor="start" font-weight="normal" font-family='"DejaVu Sans", "Liberation Sans", sans-serif' textLength="107" lengthAdjust="spacingAndGlyphs">Nov 2020 Lows</text>
<text x="1814.8" y="896.8" font-size="14.2" fill="#cfcfcf" text-anchor="start" font-weight="normal" font-family='"DejaVu Sans", "Liberation Sans", sans-serif' textLength="100.7" lengthAdjust="spacingAndGlyphs">July 2020 Low</text>
<text x="1841" y="959.3" font-size="14.2" fill="#9a9a9a" text-anchor="start" font-weight="normal" font-family='"DejaVu Sans", "Liberation Sans", sans-serif' textLength="75.5" lengthAdjust="spacingAndGlyphs">March LDC</text>
<path d="M1050.3 982V1152.5" stroke="#dfa25f" stroke-width="3" stroke-dasharray="14 17" fill="none"/>
<path d="M1050.3 1153V1233.5" stroke="#dfa25f" stroke-width="3" stroke-dasharray="14 17" fill="none"/>
<rect x="1048.6" y="1175.8" width="3.4" height="37.8" fill="#2f1a52" fill-opacity="0.3"/>
<g clip-path="url(#cpRsi)">
<line x1="10.6" y1="1001.7" x2="1924" y2="1001.7" stroke="#dcdcdc" stroke-width="1.5" stroke-dasharray="7 8.4"/>
<line x1="10.6" y1="1126.7" x2="1924" y2="1126.7" stroke="#dcdcdc" stroke-width="1.5" stroke-dasharray="7 8.4"/>
<line x1="10" y1="1064.2" x2="1926.5" y2="1064.2" stroke="#ffffff" stroke-width="1.7"/>
<polyline points="12.6,1046.4 32.5,1039.5 52.5,1045.3 72.4,1019.3 92.4,1014.9 112.3,1012.7 132.3,990.6 152.2,983.2 172.2,1014.9 192.2,1004.5 212.1,988.7 232.1,968.0 252.0,987.9 272.0,970.6 291.9,968.0 311.9,1004.8 331.9,1041.7 351.8,1036.5 371.8,1023.9 391.7,1032.4 411.7,1020.9 431.6,1042.3 451.6,1037.6 471.6,1037.6 491.5,1069.3 511.5,1057.3 531.4,1046.1 551.4,1052.4 571.3,1072.9 591.3,1062.5 611.3,1067.2 631.2,1077.5 651.2,1094.0 671.1,1089.6 691.1,1096.1 711.0,1107.4 731.0,1052.1 751.0,1049.4 770.9,1046.4 790.9,1050.7 810.8,1063.9 830.8,1085.7 850.7,1109.5 870.7,1138.5 890.7,1104.3 910.6,1108.2 930.6,1112.0 950.5,1113.9 970.5,1120.2 990.4,1125.4 1010.4,1127.3 1030.4,1120.5 1050.3,1107.1 1070.3,1112.3 1090.2,1108.2 1110.2,1099.1 1130.1,1103.5 1150.1,1081.1 1170.1,1035.7 1190.0,1039.0 1210.0,1036.8 1229.9,1046.6 1249.9,1068.5 1269.8,1064.1 1289.8,1053.5 1309.8,1062.5 1329.7,1077.5 1349.7,1078.6 1369.6,1080.3 1389.6,1069.3 1409.5,1056.8 1429.5,1055.1 1449.5,1090.9 1469.4,1083.0 1489.4,1083.6 1509.3,1080.0 1529.3,1090.1 1549.2,1086.3 1569.2,1110.1 1589.2,1078.9 1609.1,1050.2 1629.1,1000.4" fill="none" stroke="#e89614" stroke-width="1.6" stroke-linejoin="round"/>
</g>
<g clip-path="url(#cpSto)">
<line x1="10.6" y1="1175" x2="1924" y2="1175" stroke="#66676f" stroke-width="1.7" stroke-dasharray="7 8.4"/>
<line x1="10.6" y1="1214.1" x2="1924" y2="1214.1" stroke="#85769a" stroke-width="1.7" stroke-dasharray="7 8.4"/>
<polyline points="12.6,1181.5 32.5,1179.5 52.5,1176.8 72.4,1171.3 92.4,1167.5 112.3,1162.6 132.3,1162.6 152.2,1162.6 172.2,1169.1 192.2,1173.8 212.1,1173.5 232.1,1166.4 252.0,1165.9 272.0,1165.9 291.9,1166.1 311.9,1169.7 331.9,1188.8 351.8,1208.0 371.8,1217.8 391.7,1217.8 411.7,1215.6 431.6,1220.3 451.6,1221.4 471.6,1225.5 491.5,1225.2 511.5,1224.4 531.4,1222.5 551.4,1220.8 571.3,1221.6 591.3,1221.9 611.3,1223.3 631.2,1223.8 651.2,1226.3 671.1,1226.8 691.1,1227.1 711.0,1226.8 731.0,1216.5 751.0,1202.5 770.9,1187.5 790.9,1184.5 810.8,1186.6 830.8,1195.7 850.7,1209.6 870.7,1221.4 890.7,1220.8 910.6,1214.8 930.6,1210.4 950.5,1212.6 970.5,1216.5 990.4,1219.7 1010.4,1223.3 1030.4,1223.8 1050.3,1221.4 1070.3,1218.6 1090.2,1215.6 1110.2,1208.8 1130.1,1199.2 1150.1,1182.8 1170.1,1171.1 1190.0,1162.9 1210.0,1162.9 1229.9,1164.8 1249.9,1169.4 1269.8,1174.3 1289.8,1174.9 1309.8,1174.1 1329.7,1176.8 1349.7,1182.5 1369.6,1186.9 1389.6,1185.6 1409.5,1182.0 1429.5,1180.4 1449.5,1195.4 1469.4,1209.3 1489.4,1220.3 1509.3,1214.0 1529.3,1216.5 1549.2,1217.5 1569.2,1224.4 1589.2,1213.4 1609.1,1194.0 1629.1,1172.2" fill="none" stroke="#0a90f6" stroke-width="1.7" stroke-linejoin="round"/>
<polyline points="12.6,1180.1 32.5,1182.0 52.5,1179.3 72.4,1175.4 92.4,1171.3 112.3,1167.0 132.3,1164.2 152.2,1162.6 172.2,1164.8 192.2,1168.6 212.1,1172.2 232.1,1171.1 252.0,1168.6 272.0,1166.1 291.9,1165.9 311.9,1167.2 331.9,1174.9 351.8,1188.8 371.8,1204.7 391.7,1214.5 411.7,1216.5 431.6,1217.8 451.6,1219.2 471.6,1222.5 491.5,1224.1 511.5,1224.9 531.4,1224.1 551.4,1222.7 571.3,1221.9 591.3,1221.9 611.3,1222.5 631.2,1223.0 651.2,1224.4 671.1,1225.5 691.1,1226.6 711.0,1226.8 731.0,1223.3 751.0,1215.1 770.9,1202.0 790.9,1191.6 810.8,1186.1 830.8,1189.4 850.7,1197.9 870.7,1209.1 890.7,1217.3 910.6,1219.2 930.6,1215.6 950.5,1212.9 970.5,1213.4 990.4,1216.2 1010.4,1219.7 1030.4,1222.5 1050.3,1222.7 1070.3,1221.1 1090.2,1218.6 1110.2,1214.3 1130.1,1208.0 1150.1,1197.0 1170.1,1184.5 1190.0,1172.2 1210.0,1165.9 1229.9,1163.4 1249.9,1165.6 1269.8,1169.4 1289.8,1172.7 1309.8,1174.3 1329.7,1175.4 1349.7,1177.9 1369.6,1182.0 1389.6,1185.0 1409.5,1185.0 1429.5,1182.8 1449.5,1185.8 1469.4,1195.1 1489.4,1208.3 1509.3,1214.5 1529.3,1216.7 1549.2,1215.6 1569.2,1219.2 1589.2,1218.4 1609.1,1210.4 1629.1,1192.9" fill="none" stroke="#ff6a00" stroke-width="1.7" stroke-linejoin="round"/>
<rect x="10" y="1175.8" width="1915.5" height="37.8" fill="#2f1a52" fill-opacity="0.28"/>
</g>
<line x1="10" y1="982.4" x2="2039" y2="982.4" stroke="#2e323e" stroke-width="1.7"/>
<line x1="10" y1="1153.1" x2="2039" y2="1153.1" stroke="#2e323e" stroke-width="1.8"/>
<line x1="10" y1="1234.2" x2="2039" y2="1234.2" stroke="#2e323e" stroke-width="1.7"/>
<line x1="1926.1" y1="62" x2="1926.1" y2="1275" stroke="#2e323e" stroke-width="1.8"/>
<line x1="1926.5" y1="102.8" x2="1932.5" y2="102.8" stroke="#2e323e" stroke-width="1.5"/>
<text x="1938" y="110.2" font-size="18" fill="#b2b5be" text-anchor="start" font-weight="normal" font-family='"Liberation Sans", sans-serif' textLength="85.9" lengthAdjust="spacingAndGlyphs" stroke="#b2b5be" stroke-width="0.45">0.70000000</text>
<line x1="1926.5" y1="178.5" x2="1932.5" y2="178.5" stroke="#2e323e" stroke-width="1.5"/>
<text x="1938" y="185.9" font-size="18" fill="#b2b5be" text-anchor="start" font-weight="normal" font-family='"Liberation Sans", sans-serif' textLength="85.9" lengthAdjust="spacingAndGlyphs" stroke="#b2b5be" stroke-width="0.45">0.65000000</text>
<line x1="1926.5" y1="254.2" x2="1932.5" y2="254.2" stroke="#2e323e" stroke-width="1.5"/>
<text x="1938" y="261.6" font-size="18" fill="#b2b5be" text-anchor="start" font-weight="normal" font-family='"Liberation Sans", sans-serif' textLength="85.9" lengthAdjust="spacingAndGlyphs" stroke="#b2b5be" stroke-width="0.45">0.60000000</text>
<line x1="1926.5" y1="329.9" x2="1932.5" y2="329.9" stroke="#2e323e" stroke-width="1.5"/>
<text x="1938" y="337.3" font-size="18" fill="#b2b5be" text-anchor="start" font-weight="normal" font-family='"Liberation Sans", sans-serif' textLength="85.9" lengthAdjust="spacingAndGlyphs" stroke="#b2b5be" stroke-width="0.45">0.55000000</text>
<line x1="1926.5" y1="481.4" x2="1932.5" y2="481.4" stroke="#2e323e" stroke-width="1.5"/>
<text x="1938" y="488.8" font-size="18" fill="#b2b5be" text-anchor="start" font-weight="normal" font-family='"Liberation Sans", sans-serif' textLength="85.9" lengthAdjust="spacingAndGlyphs" stroke="#b2b5be" stroke-width="0.45">0.45000000</text>
<line x1="1926.5" y1="708.5" x2="1932.5" y2="708.5" stroke="#2e323e" stroke-width="1.5"/>
<text x="1938" y="715.9" font-size="18" fill="#b2b5be" text-anchor="start" font-weight="normal" font-family='"Liberation Sans", sans-serif' textLength="85.9" lengthAdjust="spacingAndGlyphs" stroke="#b2b5be" stroke-width="0.45">0.30000000</text>
<line x1="1926.5" y1="784.2" x2="1932.5" y2="784.2" stroke="#2e323e" stroke-width="1.5"/>
<text x="1938" y="791.6" font-size="18" fill="#b2b5be" text-anchor="start" font-weight="normal" font-family='"Liberation Sans", sans-serif' textLength="85.9" lengthAdjust="spacingAndGlyphs" stroke="#b2b5be" stroke-width="0.45">0.25000000</text>
<line x1="1926.5" y1="935.7" x2="1932.5" y2="935.7" stroke="#2e323e" stroke-width="1.5"/>
<text x="1938" y="943.1" font-size="18" fill="#b2b5be" text-anchor="start" font-weight="normal" font-family='"Liberation Sans", sans-serif' textLength="85.9" lengthAdjust="spacingAndGlyphs" stroke="#b2b5be" stroke-width="0.45">0.15000000</text>
<line x1="1926.5" y1="1012" x2="1932.5" y2="1012" stroke="#2e323e" stroke-width="1.5"/>
<text x="1938" y="1019.4" font-size="18" fill="#b2b5be" text-anchor="start" font-weight="normal" font-family='"Liberation Sans", sans-serif' textLength="41" lengthAdjust="spacingAndGlyphs" stroke="#b2b5be" stroke-width="0.45">75.00</text>
<line x1="1926.5" y1="1116.4" x2="1932.5" y2="1116.4" stroke="#2e323e" stroke-width="1.5"/>
<text x="1938" y="1123.8" font-size="18" fill="#b2b5be" text-anchor="start" font-weight="normal" font-family='"Liberation Sans", sans-serif' textLength="41" lengthAdjust="spacingAndGlyphs" stroke="#b2b5be" stroke-width="0.45">25.00</text>
<line x1="1926.5" y1="1161.9" x2="1932.5" y2="1161.9" stroke="#2e323e" stroke-width="1.5"/>
<text x="1938" y="1169.3" font-size="18" fill="#b2b5be" text-anchor="start" font-weight="normal" font-family='"Liberation Sans", sans-serif' textLength="50" lengthAdjust="spacingAndGlyphs" stroke="#b2b5be" stroke-width="0.45">100.00</text>
<line x1="1926.5" y1="1226.9" x2="1932.5" y2="1226.9" stroke="#2e323e" stroke-width="1.5"/>
<text x="1938" y="1234.3" font-size="18" fill="#b2b5be" text-anchor="start" font-weight="normal" font-family='"Liberation Sans", sans-serif' textLength="32.5" lengthAdjust="spacingAndGlyphs" stroke="#b2b5be" stroke-width="0.45">0.00</text>
<rect x="1925.5" y="307.1" width="111.0" height="25" fill="#bdbdbd"/>
<line x1="1926.5" y1="319.6" x2="1932.5" y2="319.6" stroke="#000" stroke-width="1.4"/>
<text x="1938" y="326.5" font-size="18" fill="#000" text-anchor="start" font-weight="normal" font-family='"Liberation Sans", sans-serif' textLength="85.9" lengthAdjust="spacingAndGlyphs" stroke="#000" stroke-width="0.4">0.55676390</text>
<rect x="1925.5" y="393.1" width="111.0" height="25" fill="#ff00ff"/>
<line x1="1926.5" y1="405.6" x2="1932.5" y2="405.6" stroke="#fff" stroke-width="1.4"/>
<text x="1938" y="412.5" font-size="18" fill="#fff" text-anchor="start" font-weight="normal" font-family='"Liberation Sans", sans-serif' textLength="85.9" lengthAdjust="spacingAndGlyphs" stroke="#fff" stroke-width="0.4">0.50000000</text>
<rect x="1925.5" y="544.5" width="111.0" height="25" fill="#ff00ff"/>
<line x1="1926.5" y1="557" x2="1932.5" y2="557" stroke="#fff" stroke-width="1.4"/>
<text x="1938" y="563.9" font-size="18" fill="#fff" text-anchor="start" font-weight="normal" font-family='"Liberation Sans", sans-serif' textLength="85.9" lengthAdjust="spacingAndGlyphs" stroke="#fff" stroke-width="0.4">0.40000000</text>
<rect x="1925.5" y="599.5" width="111.0" height="25" fill="#26a69a"/>
<line x1="1926.5" y1="612" x2="1932.5" y2="612" stroke="#fff" stroke-width="1.4"/>
<text x="1938" y="618.9" font-size="18" fill="#fff" text-anchor="start" font-weight="normal" font-family='"Liberation Sans", sans-serif' textLength="85.9" lengthAdjust="spacingAndGlyphs" stroke="#fff" stroke-width="0.4">0.36326588</text>
<rect x="1925.5" y="624.5" width="111.0" height="25" fill="#a5c8ec"/>
<line x1="1926.5" y1="637" x2="1932.5" y2="637" stroke="#000" stroke-width="1.4"/>
<text x="1938" y="643.9" font-size="18" fill="#000" text-anchor="start" font-weight="normal" font-family='"Liberation Sans", sans-serif' textLength="85.9" lengthAdjust="spacingAndGlyphs" stroke="#000" stroke-width="0.4">0.35000000</text>
<rect x="1925.5" y="817.0" width="111.0" height="25" fill="#dcdcdc"/>
<line x1="1926.5" y1="829.5" x2="1932.5" y2="829.5" stroke="#000" stroke-width="1.4"/>
<text x="1938" y="836.4" font-size="18" fill="#000" text-anchor="start" font-weight="normal" font-family='"Liberation Sans", sans-serif' textLength="85.9" lengthAdjust="spacingAndGlyphs" stroke="#000" stroke-width="0.4">0.21967643</text>
<rect x="1925.5" y="846.5" width="111.0" height="25" fill="#ff00ff"/>
<line x1="1926.5" y1="859" x2="1932.5" y2="859" stroke="#fff" stroke-width="1.4"/>
<text x="1938" y="865.9" font-size="18" fill="#fff" text-anchor="start" font-weight="normal" font-family='"Liberation Sans", sans-serif' textLength="85.9" lengthAdjust="spacingAndGlyphs" stroke="#fff" stroke-width="0.4">0.20000000</text>
<rect x="1925.5" y="891.0" width="111.0" height="25" fill="#d2d2d2"/>
<line x1="1926.5" y1="903.5" x2="1932.5" y2="903.5" stroke="#000" stroke-width="1.4"/>
<text x="1938" y="910.4" font-size="18" fill="#000" text-anchor="start" font-weight="normal" font-family='"Liberation Sans", sans-serif' textLength="85.9" lengthAdjust="spacingAndGlyphs" stroke="#000" stroke-width="0.4">0.17100000</text>
<rect x="1925.5" y="953.7" width="111.0" height="25" fill="#e2e2e2"/>
<line x1="1926.5" y1="966.2" x2="1932.5" y2="966.2" stroke="#000" stroke-width="1.4"/>
<text x="1938" y="973.1" font-size="18" fill="#000" text-anchor="start" font-weight="normal" font-family='"Liberation Sans", sans-serif' textLength="85.9" lengthAdjust="spacingAndGlyphs" stroke="#000" stroke-width="0.4">0.12952975</text>
<rect x="1925.5" y="1051.7" width="66.5" height="25" fill="#f2f2f2"/>
<line x1="1926.5" y1="1064.2" x2="1932.5" y2="1064.2" stroke="#000" stroke-width="1.4"/>
<text x="1938" y="1071.1" font-size="18" fill="#000" text-anchor="start" font-weight="normal" font-family='"Liberation Sans", sans-serif' textLength="41" lengthAdjust="spacingAndGlyphs" stroke="#000" stroke-width="0.4">50.00</text>
<rect x="1961.5" y="70.5" width="41" height="27" rx="4.5" fill="#181c27" stroke="#2e323e" stroke-width="1.2"/>
<text x="1967.3" y="89.8" font-size="18" fill="#b2b5be" text-anchor="start" font-weight="normal" font-family='"Liberation Sans", sans-serif' textLength="29" lengthAdjust="spacingAndGlyphs" stroke="#b2b5be" stroke-width="0.4">USD</text>
<line x1="132.292" y1="1234.2" x2="132.292" y2="1239.2" stroke="#2e323e" stroke-width="1"/>
<text x="124.1" y="1262.5" font-size="18" fill="#b2b5be" text-anchor="start" font-weight="normal" font-family='"Liberation Sans", sans-serif' textLength="16.4" lengthAdjust="spacingAndGlyphs" stroke="#b2b5be" stroke-width="0.4">16</text>
<line x1="271.99100000000004" y1="1234.2" x2="271.99100000000004" y2="1239.2" stroke="#2e323e" stroke-width="1"/>
<text x="263.8" y="1262.5" font-size="18" fill="#b2b5be" text-anchor="start" font-weight="normal" font-family='"Liberation Sans", sans-serif' textLength="16.4" lengthAdjust="spacingAndGlyphs" stroke="#b2b5be" stroke-width="0.4">23</text>
<line x1="551.389" y1="1234.2" x2="551.389" y2="1239.2" stroke="#2e323e" stroke-width="1"/>
<text x="547.3" y="1262.5" font-size="18" fill="#b2b5be" text-anchor="start" font-weight="normal" font-family='"Liberation Sans", sans-serif' textLength="8.2" lengthAdjust="spacingAndGlyphs" stroke="#b2b5be" stroke-width="0.4">7</text>
<line x1="691.088" y1="1234.2" x2="691.088" y2="1239.2" stroke="#2e323e" stroke-width="1"/>
<text x="682.9" y="1262.5" font-size="18" fill="#b2b5be" text-anchor="start" font-weight="normal" font-family='"Liberation Sans", sans-serif' textLength="16.4" lengthAdjust="spacingAndGlyphs" stroke="#b2b5be" stroke-width="0.4">14</text>
<line x1="830.787" y1="1234.2" x2="830.787" y2="1239.2" stroke="#2e323e" stroke-width="1"/>
<text x="822.6" y="1262.5" font-size="18" fill="#b2b5be" text-anchor="start" font-weight="normal" font-family='"Liberation Sans", sans-serif' textLength="16.4" lengthAdjust="spacingAndGlyphs" stroke="#b2b5be" stroke-width="0.4">21</text>
<line x1="1249.884" y1="1234.2" x2="1249.884" y2="1239.2" stroke="#2e323e" stroke-width="1"/>
<text x="1241.7" y="1262.5" font-size="18" fill="#b2b5be" text-anchor="start" font-weight="normal" font-family='"Liberation Sans", sans-serif' textLength="16.4" lengthAdjust="spacingAndGlyphs" stroke="#b2b5be" stroke-width="0.4">11</text>
<line x1="1389.583" y1="1234.2" x2="1389.583" y2="1239.2" stroke="#2e323e" stroke-width="1"/>
<text x="1381.4" y="1262.5" font-size="18" fill="#b2b5be" text-anchor="start" font-weight="normal" font-family='"Liberation Sans", sans-serif' textLength="16.4" lengthAdjust="spacingAndGlyphs" stroke="#b2b5be" stroke-width="0.4">18</text>
<line x1="1529.282" y1="1234.2" x2="1529.282" y2="1239.2" stroke="#2e323e" stroke-width="1"/>
<text x="1521.1" y="1262.5" font-size="18" fill="#b2b5be" text-anchor="start" font-weight="normal" font-family='"Liberation Sans", sans-serif' textLength="16.4" lengthAdjust="spacingAndGlyphs" stroke="#b2b5be" stroke-width="0.4">25</text>
<line x1="1668.981" y1="1234.2" x2="1668.981" y2="1239.2" stroke="#2e323e" stroke-width="1"/>
<text x="1655.8" y="1262.5" font-size="18" fill="#b2b5be" text-anchor="start" font-weight="normal" font-family='"Liberation Sans", sans-serif' textLength="26.3" lengthAdjust="spacingAndGlyphs" stroke="#b2b5be" stroke-width="0.4">Feb</text>
<line x1="1808.68" y1="1234.2" x2="1808.68" y2="1239.2" stroke="#2e323e" stroke-width="1"/>
<text x="1804.6" y="1262.5" font-size="18" fill="#b2b5be" text-anchor="start" font-weight="normal" font-family='"Liberation Sans", sans-serif' textLength="8.2" lengthAdjust="spacingAndGlyphs" stroke="#b2b5be" stroke-width="0.4">8</text>
<rect x="10" y="1235.5" width="93" height="32" fill="#d9d9d9"/>
<text x="17.8" y="1258.4" font-size="18" fill="#000" text-anchor="start" font-weight="normal" font-family='"Liberation Sans", sans-serif' textLength="76.0" lengthAdjust="spacingAndGlyphs" stroke="#000" stroke-width="0.35">01 Nov '20</text>
<rect x="385" y="1235.5" width="93" height="32" fill="#c8c8c8"/>
<line x1="431.6" y1="1234.2" x2="431.6" y2="1239.2" stroke="#000" stroke-width="1.4"/>
<text x="393.8" y="1258.4" font-size="18" fill="#000" text-anchor="start" font-weight="normal" font-family='"Liberation Sans", sans-serif' textLength="76.0" lengthAdjust="spacingAndGlyphs" stroke="#000" stroke-width="0.35">01 Dec '20</text>
<rect x="1005.4" y="1235.5" width="91.1" height="32" fill="#dfa25f"/>
<line x1="1050.3" y1="1234.2" x2="1050.3" y2="1239.2" stroke="#000" stroke-width="1.4"/>
<text x="1013.9" y="1258.4" font-size="18" fill="#000" text-anchor="start" font-weight="normal" font-family='"Liberation Sans", sans-serif' textLength="72.5" lengthAdjust="spacingAndGlyphs" stroke="#000" stroke-width="0.35">01 Jan '21</text>
<text x="431.6" y="1262" font-size="17" fill="#d6d6d6" text-anchor="middle" font-weight="normal" font-family='"Liberation Sans", sans-serif' opacity="0.55">Dec</text>
<text x="1050.2" y="1262" font-size="17" fill="#ecc08e" text-anchor="middle" font-weight="normal" font-family='"Liberation Sans", sans-serif' opacity="0.6">2021</text>
<text x="8.7" y="23.4" font-size="17.4" fill="#fff" text-anchor="start" font-weight="bold" font-family='"Liberation Sans", sans-serif' textLength="64.4" lengthAdjust="spacingAndGlyphs">YazTCM</text>
<text x="79" y="23.4" font-size="17.4" fill="#f4f5f7" text-anchor="start" font-weight="normal" font-family='"Liberation Sans", sans-serif' textLength="509" lengthAdjust="spacingAndGlyphs">published on TradingView.com, January 30, 2021 14:37:48 GMT</text>
<text x="9.0" y="47" font-size="17.4" fill="#fff" text-anchor="start" font-weight="bold" font-family='"Liberation Sans", sans-serif' textLength="176.4" lengthAdjust="spacingAndGlyphs">BINANCE:XRPUSD, 1D</text>
<text x="194" y="47" font-size="17.4" fill="#f4f5f7" text-anchor="start" font-weight="normal" font-family='"Liberation Sans", sans-serif' textLength="93" lengthAdjust="spacingAndGlyphs">0.36326588</text>
<polygon points="291.5,46.5 305.5,46.5 298.5,32.5" fill="#26a69a"/>
<text x="311.5" y="47" font-size="17.4" fill="#f4f5f7" text-anchor="start" font-weight="normal" font-family='"Liberation Sans", sans-serif' textLength="187" lengthAdjust="spacingAndGlyphs">+0.08002136 (+28.25%)</text>
<text x="505" y="47" font-size="17.4" fill="#fff" text-anchor="start" font-weight="bold" font-family='"Liberation Sans", sans-serif' textLength="18" lengthAdjust="spacingAndGlyphs">O:</text>
<text x="525" y="47" font-size="17.4" fill="#26a69a" text-anchor="start" font-weight="normal" font-family='"Liberation Sans", sans-serif' textLength="93" lengthAdjust="spacingAndGlyphs">0.28303476</text>
<text x="624.5" y="47" font-size="17.4" fill="#fff" text-anchor="start" font-weight="bold" font-family='"Liberation Sans", sans-serif' textLength="17.4" lengthAdjust="spacingAndGlyphs">H:</text>
<text x="644" y="47" font-size="17.4" fill="#26a69a" text-anchor="start" font-weight="normal" font-family='"Liberation Sans", sans-serif' textLength="93" lengthAdjust="spacingAndGlyphs">0.37201930</text>
<text x="743.5" y="47" font-size="17.4" fill="#fff" text-anchor="start" font-weight="bold" font-family='"Liberation Sans", sans-serif' textLength="12.5" lengthAdjust="spacingAndGlyphs">L:</text>
<text x="758.5" y="47" font-size="17.4" fill="#26a69a" text-anchor="start" font-weight="normal" font-family='"Liberation Sans", sans-serif' textLength="93" lengthAdjust="spacingAndGlyphs">0.26846620</text>
<text x="858" y="47" font-size="17.4" fill="#fff" text-anchor="start" font-weight="bold" font-family='"Liberation Sans", sans-serif' textLength="15.5" lengthAdjust="spacingAndGlyphs">C:</text>
<text x="876" y="47" font-size="17.4" fill="#26a69a" text-anchor="start" font-weight="normal" font-family='"Liberation Sans", sans-serif' textLength="93" lengthAdjust="spacingAndGlyphs">0.36326588</text>
<g fill="#2196f3"><circle cx="14.3" cy="1305.4" r="6.6"/><circle cx="23.9" cy="1298.5" r="7.7"/><circle cx="37.4" cy="1304.3" r="7.75"/><rect x="14.3" y="1300" width="23.2" height="12.05"/></g>
<polyline points="9.4,1309.3 22.2,1299.2 31.2,1307.1 40.4,1297.4" fill="none" stroke="#131722" stroke-width="1.7"/>
<circle cx="22.2" cy="1299.2" r="2.3" fill="#131722"/><circle cx="31.2" cy="1307.1" r="2.6" fill="#131722"/>
<text x="48.3" y="1306.9" font-size="17.6" fill="#f0f0f0" text-anchor="start" font-weight="normal" font-family='"Liberation Sans", sans-serif' textLength="98.6" lengthAdjust="spacingAndGlyphs">TradingView</text>
<rect x="9.2" y="61.4" width="2030" height="1214.3" fill="none" stroke="#000" stroke-width="1.3"/>
</svg>
</body></html>
